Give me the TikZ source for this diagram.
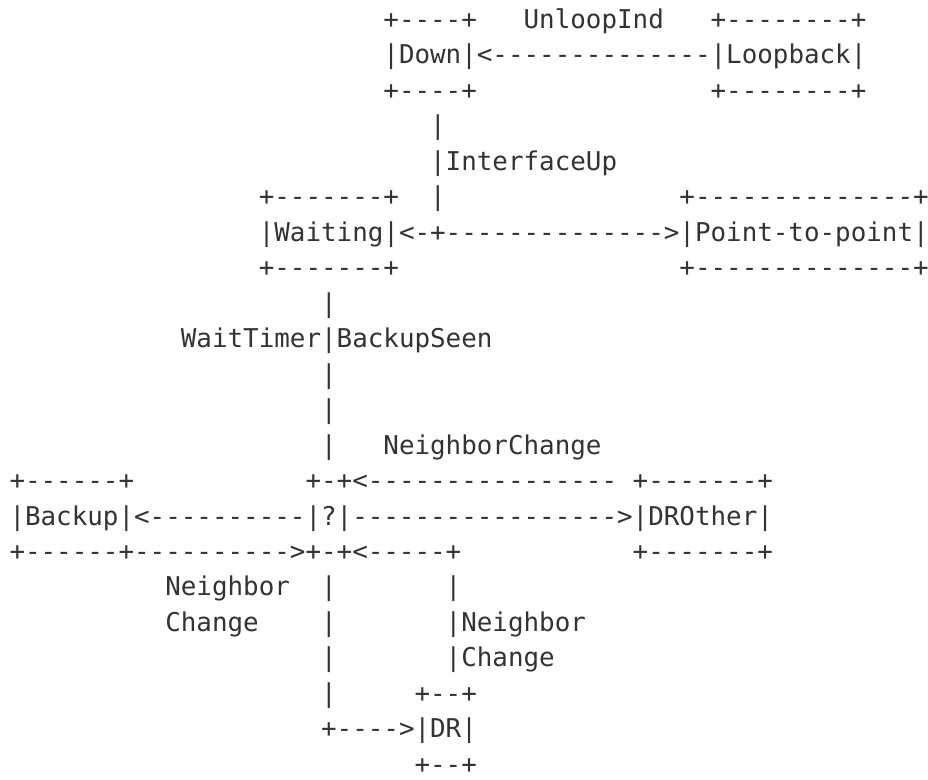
\documentclass[tikz,border=0pt]{standalone}
\usepackage{xcolor}
\usepackage{fontspec}
\setmonofont{DejaVu Sans Mono}
\usepackage{tikz}
\usetikzlibrary{positioning}
\definecolor{ink}{HTML}{333333}

\begin{document}
\begin{tikzpicture}[x=15.58pt, y=-35.48pt,
    every node/.style={anchor=base west, inner sep=0pt, outer sep=0pt, text=ink,
      font=\ttfamily\fontsize{25.88pt}{31pt}\selectfont}]

				\useasboundingbox (0pt,0pt) rectangle (928pt,-779pt);

				\begin{scope}[shift={(9.5pt,-28.3pt)}]
				% Down and Loopback
				\node (downtop) at (24,0) {+----+};
				\node (unloopind) at (33,0) {UnloopInd};
				\node (looptop) at (45,0) {+--------+};
				\node (downrow) at (24,1) {|Down|<--------------|Loopback|};
				\node (downbot) at (24,2) {+----+};
				\node (loopbot) at (45,2) {+--------+};

				\node (upa) at (27,3) {|};
				\node (interfaceup) at (27,4) {|InterfaceUp};

				% Waiting and Point-to-point
				\node (waittop) at (16,5) {+-------+};
				\node (upb) at (27,5) {|};
				\node (ptptop) at (43,5) {+--------------+};
				\node (waitrow) at (16,6) {|Waiting|<-+-------------->|Point-to-point|};
				\node (waitbot) at (16,7) {+-------+};
				\node (ptpbot) at (43,7) {+--------------+};

				\node (waita) at (20,8) {|};
				\node (waittimer) at (11,9) {WaitTimer|BackupSeen};
				\node (waitb) at (20,10) {|};
				\node (waitc) at (20,11) {|};
				\node (waitd) at (20,12) {|};
				\node (nbchange) at (24,12) {NeighborChange};

				% Backup, ? and DROther
				\node (backuptop) at (0,13) {+------+};
				\node (asktop) at (19,13) {+-+<----------------};
				\node (drothertop) at (40,13) {+-------+};
				\node (backuprow) at (0,14) {|Backup|<----------|?|----------------->|DROther|};
				\node (backupbot) at (0,15) {+------+---------->+-+<-----+};
				\node (drotherbot) at (40,15) {+-------+};

				% DR
				\node (nbleft) at (10,16) {Neighbor};
				\node (aska) at (20,16) {|};
				\node (dra) at (28,16) {|};
				\node (chleft) at (10,17) {Change};
				\node (askb) at (20,17) {|};
				\node (nbright) at (28,17) {|Neighbor};
				\node (askc) at (20,18) {|};
				\node (chright) at (28,18) {|Change};
				\node (askd) at (20,19) {|};
				\node (drtop) at (26,19) {+--+};
				\node (drrow) at (20,20) {+---->|DR|};
				\node (drbot) at (26,21) {+--+};
				\end{scope}
		\end{tikzpicture}
\end{document}
